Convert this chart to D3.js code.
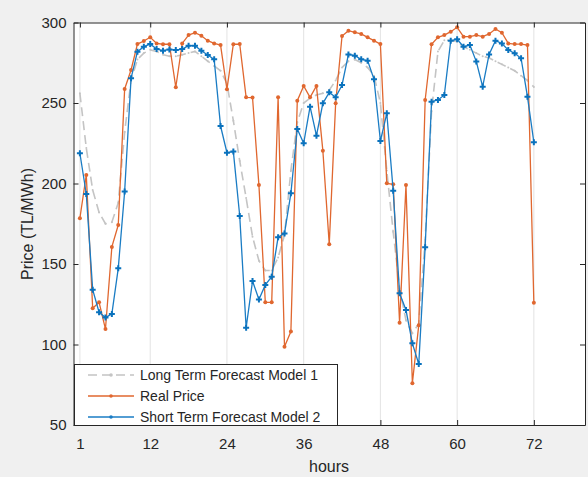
<!DOCTYPE html>
<html>
<head>
<meta charset="utf-8">
<script src="https://cdn.jsdelivr.net/npm/d3@7"></script>
<style>
  body { margin: 0; background: #f0f0f0; }
  svg { display: block; font-family: "Liberation Sans", Arial, sans-serif; }
  .axis path, .axis line { stroke: #262626; }
  .axis text { fill: #262626; font-size: 15px; }
</style>
</head>
<body>
<svg id="chart" width="588" height="477"></svg>
<script>
// hours 1..72
var hours = d3.range(1, 73);

var longTerm = [
  256, 222, 196, 182, 175, 176, 188, 232, 264, 277, 281, 283,
  282, 280, 279, 279, 280, 281, 282, 279, 276, 273, 270, 262,
  239, 214, 191, 167, 152, 146, 146, 154, 168, 208, 238, 250,
  253, 255, 256, 258, 264, 272, 276, 277, 275, 272, 267, 250,
  208, 170, 135, 115, 107, 113, 165, 245, 282, 289, 289, 288,
  285, 283, 281, 279, 278, 276, 274, 272, 270, 267, 264, 260
];

var realPrice = [
  178.4, 205.3, 122.5, 126.2, 109.6, 160.6, 174.2, 258.7, 270.5, 286.6, 288.5, 290.8,
  287, 286.5, 286.5, 259.8, 287, 292.2, 293.7, 291.8, 288.7, 287, 286, 258.5,
  286.5, 286.6, 253.5, 253.4, 199, 126.2, 126.2, 253.5, 98.6, 108, 251.4, 260.6,
  253.5, 260.6, 220.4, 162.2, 249.8, 291.6, 294.9, 293.9, 292.9, 290.8, 288.7, 286.6,
  200.1, 199.5, 113.5, 199, 76, 112, 251.9, 286.5, 290.8, 292.2, 294.3, 297,
  291.2, 291.2, 292.2, 291.2, 292.9, 296, 293.7, 287, 286.6, 286.6, 286, 126
];

var shortTerm = [
  218.8, 193.5, 134, 120, 116.7, 119, 147.3, 195, 265.3, 281.9, 285, 286.6,
  283.5, 282.5, 283.3, 282.9, 283.5, 285.6, 285.6, 282.5, 279.8, 277.1, 235.7, 219.1,
  219.8, 179.8, 110.4, 139.4, 128, 137, 142.1, 166.6, 169, 193.9, 233.9, 225,
  247.7, 229.7, 249.8, 256.6, 253.5, 261.2, 280.2, 279.4, 277.1, 276.3, 264.7, 226.4,
  243.6, 195.5, 131.8, 121.4, 100.7, 87.9, 160.4, 250.8, 251.9, 255, 288.7, 289.6,
  285, 286, 275.7, 260.1, 280.2, 288.7, 287, 282.9, 280.9, 277.8, 253.9, 225.6
];

var xTicks = [1, 12, 24, 36, 48, 60, 72];
var yTicks = [50, 100, 150, 200, 250, 300];

var seriesNames = ['Long Term Forecast Model 1', 'Real Price', 'Short Term Forecast Model 2'];

var svg = d3.select('#chart');

var plotLeft = 73.5, plotRight = 585, plotTop = 22.5, plotBottom = 425;

var xScale = d3.scaleLinear().domain([0, 80]).range([plotLeft, plotRight]);
var yScale = d3.scaleLinear().domain([50, 300]).range([plotBottom, plotTop]);

// plot background
svg.append('rect')
  .attr('x', plotLeft).attr('y', plotTop)
  .attr('width', plotRight - plotLeft).attr('height', plotBottom - plotTop)
  .attr('fill', '#fff');

// vertical grid
svg.append('g').selectAll('line')
  .data(xTicks)
  .enter().append('line')
  .attr('x1', function(d) { return xScale(d); })
  .attr('x2', function(d) { return xScale(d); })
  .attr('y1', plotTop).attr('y2', plotBottom)
  .attr('stroke', '#e3e3e3')
  .attr('stroke-width', 1);

function makeSeries(values) {
  return values.map(function(v, i) {
    return { h: hours[i], v: v };
  });
}

var line = d3.line()
  .x(function(d) { return xScale(d.h); })
  .y(function(d) { return yScale(d.v); });

// long term forecast (dashed gray)
var gLong = svg.append('g');
gLong.append('path')
  .datum(makeSeries(longTerm))
  .attr('d', line)
  .attr('fill', 'none')
  .attr('stroke', '#c4c4c4')
  .attr('stroke-width', 1.6)
  .attr('stroke-dasharray', '9,5');
gLong.selectAll('circle')
  .data(makeSeries(longTerm))
  .enter().append('circle')
  .attr('cx', function(d) { return xScale(d.h); })
  .attr('cy', function(d) { return yScale(d.v); })
  .attr('r', 1)
  .attr('fill', '#c4c4c4');

// real price (orange)
var gReal = svg.append('g');
gReal.append('path')
  .datum(makeSeries(realPrice))
  .attr('d', line)
  .attr('fill', 'none')
  .attr('stroke', '#e0672f')
  .attr('stroke-width', 1.3);
gReal.selectAll('circle')
  .data(makeSeries(realPrice))
  .enter().append('circle')
  .attr('cx', function(d) { return xScale(d.h); })
  .attr('cy', function(d) { return yScale(d.v); })
  .attr('r', 2)
  .attr('fill', '#e0672f');

// short term forecast (blue)
var cross = d3.symbol().type(d3.symbolCross).size(20);
var gShort = svg.append('g');
gShort.append('path')
  .datum(makeSeries(shortTerm))
  .attr('d', line)
  .attr('fill', 'none')
  .attr('stroke', '#1a7cc4')
  .attr('stroke-width', 1.3);
gShort.selectAll('path.mark')
  .data(makeSeries(shortTerm))
  .enter().append('path')
  .attr('class', 'mark')
  .attr('d', cross)
  .attr('transform', function(d) {
    return 'translate(' + xScale(d.h) + ',' + yScale(d.v) + ')';
  })
  .attr('fill', '#0a72bd');

// axes, ticks inward (box)
svg.append('g')
  .attr('class', 'axis')
  .attr('transform', 'translate(0,' + plotBottom + ')')
  .call(d3.axisBottom(xScale).tickValues(xTicks).tickSizeInner(-5).tickSizeOuter(0).tickPadding(13));

svg.append('g')
  .attr('class', 'axis')
  .attr('transform', 'translate(0,' + plotTop + ')')
  .call(d3.axisTop(xScale).tickValues(xTicks).tickSizeInner(-5).tickSizeOuter(0).tickFormat(''));

svg.append('g')
  .attr('class', 'axis')
  .attr('transform', 'translate(' + plotLeft + ',0)')
  .call(d3.axisLeft(yScale).tickValues(yTicks).tickSizeInner(-5).tickSizeOuter(0).tickPadding(7));

svg.append('g')
  .attr('class', 'axis')
  .attr('transform', 'translate(' + plotRight + ',0)')
  .call(d3.axisRight(yScale).tickValues(yTicks).tickSizeInner(-5).tickSizeOuter(0).tickFormat(''));

svg.selectAll('.axis text').attr('font-size', null).style('font-size', '15px');

// axis labels
svg.append('text')
  .attr('x', 329).attr('y', 472)
  .attr('text-anchor', 'middle')
  .attr('fill', '#262626')
  .style('font-size', '16px')
  .text('hours');

svg.append('text')
  .attr('transform', 'translate(33,224) rotate(-90)')
  .attr('text-anchor', 'middle')
  .attr('fill', '#262626')
  .style('font-size', '16px')
  .text('Price (TL/MWh)');

// legend
var legend = svg.append('g');
legend.append('rect')
  .attr('x', 74.5).attr('y', 364.5)
  .attr('width', 263).attr('height', 61)
  .attr('fill', '#fff')
  .attr('stroke', '#262626')
  .attr('stroke-width', 1);

var legendRows = [
  { name: seriesNames[0], color: '#c4c4c4', dash: '9,5', y: 375 },
  { name: seriesNames[1], color: '#e0672f', dash: null, y: 396 },
  { name: seriesNames[2], color: '#1a7cc4', dash: null, y: 417 }
];

var rows = legend.selectAll('g.row')
  .data(legendRows)
  .enter().append('g')
  .attr('class', 'row');

rows.append('line')
  .attr('x1', 88).attr('x2', 134)
  .attr('y1', function(d) { return d.y; })
  .attr('y2', function(d) { return d.y; })
  .attr('stroke', function(d) { return d.color; })
  .attr('stroke-width', 1.5)
  .attr('stroke-dasharray', function(d) { return d.dash; });

rows.append('circle')
  .attr('cx', 111)
  .attr('cy', function(d) { return d.y; })
  .attr('r', 1.8)
  .attr('fill', function(d) { return d.color; });

rows.append('text')
  .attr('x', 140)
  .attr('y', function(d) { return d.y + 5; })
  .attr('fill', '#262626')
  .style('font-size', '14px')
  .text(function(d) { return d.name; });
</script>
</body>
</html>
